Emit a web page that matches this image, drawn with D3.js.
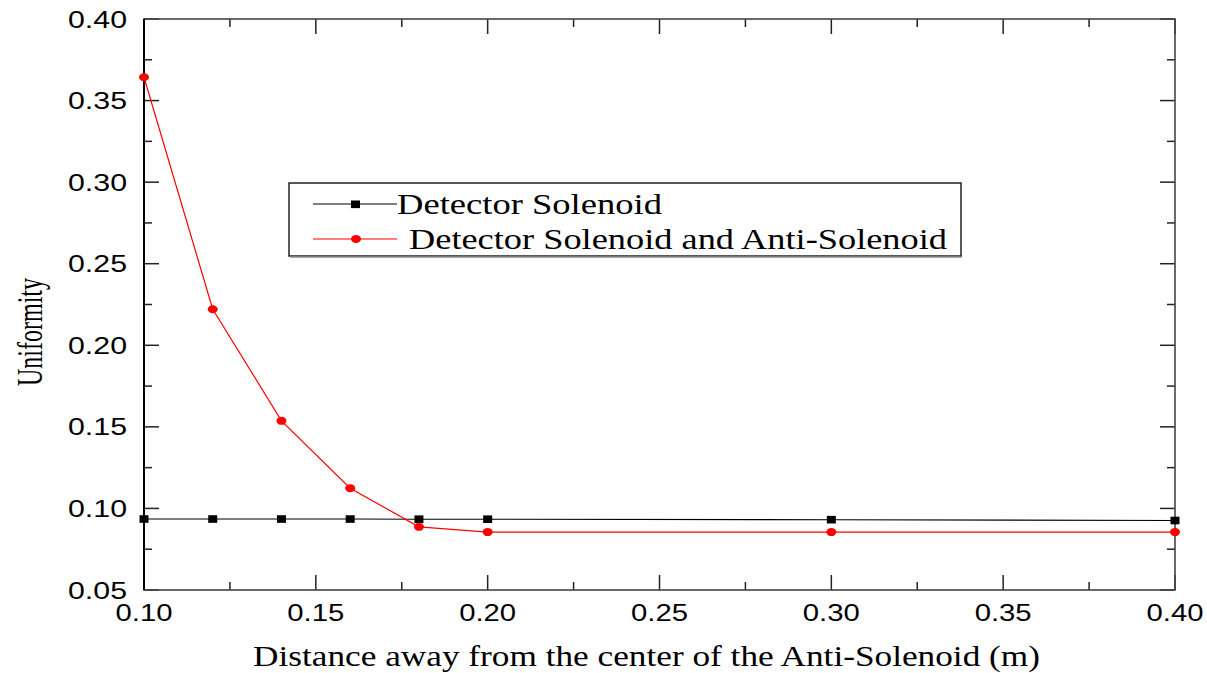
<!DOCTYPE html>
<html>
<head>
<meta charset="utf-8">
<script src="https://cdn.jsdelivr.net/npm/d3@7"></script>
<style>
  html, body { margin: 0; padding: 0; background: #fff; }
  svg { display: block; }
</style>
</head>
<body>
<svg id="chart" width="1207" height="673"></svg>
<script>
// Distance from the anti-solenoid centre (m)
const distances = [0.10, 0.12, 0.14, 0.16, 0.18, 0.20, 0.30, 0.40];
// Field uniformity, detector solenoid only
const solenoidOnly = [0.0935, 0.0935, 0.0935, 0.0935, 0.0934, 0.0934, 0.0931, 0.0926];
// Field uniformity, detector solenoid with anti-solenoid
const withAntiSolenoid = [0.3643, 0.2221, 0.1537, 0.1124, 0.0887, 0.0855, 0.0855, 0.0855];

const xTicks = [0.10, 0.15, 0.20, 0.25, 0.30, 0.35, 0.40];
const yTicks = [0.05, 0.10, 0.15, 0.20, 0.25, 0.30, 0.35, 0.40];
const seriesNames = ["Detector Solenoid", "Detector Solenoid and Anti-Solenoid"];
const xTitle = "Distance away from the center of the Anti-Solenoid (m)";
const yTitle = "Uniformity";

const svg = d3.select("#chart");
const plotLeft = 144, plotRight = 1175, plotTop = 19, plotBottom = 590;

const x = d3.scaleLinear().domain([0.10, 0.40]).range([plotLeft, plotRight]);
const y = d3.scaleLinear().domain([0.05, 0.40]).range([plotBottom, plotTop]);

const sans = "'Liberation Sans', Arial, sans-serif";
const serif = "'Liberation Serif', 'Times New Roman', serif";

// Minor tick positions halfway between majors
const xMinor = d3.range(0.125, 0.40, 0.05);
const yMinor = d3.range(0.075, 0.40, 0.05);

// Inward ticks on all four sides
const tickG = svg.append("g").attr("stroke", "#222").attr("stroke-width", 1.5);
xTicks.forEach(v => {
  tickG.append("line").attr("x1", x(v)).attr("x2", x(v)).attr("y1", plotBottom).attr("y2", plotBottom - 15);
  tickG.append("line").attr("x1", x(v)).attr("x2", x(v)).attr("y1", plotTop).attr("y2", plotTop + 15);
});
xMinor.forEach(v => {
  tickG.append("line").attr("x1", x(v)).attr("x2", x(v)).attr("y1", plotBottom).attr("y2", plotBottom - 8);
  tickG.append("line").attr("x1", x(v)).attr("x2", x(v)).attr("y1", plotTop).attr("y2", plotTop + 8);
});
yTicks.forEach(v => {
  tickG.append("line").attr("y1", y(v)).attr("y2", y(v)).attr("x1", plotLeft).attr("x2", plotLeft + 15);
  tickG.append("line").attr("y1", y(v)).attr("y2", y(v)).attr("x1", plotRight).attr("x2", plotRight - 15);
});
yMinor.forEach(v => {
  tickG.append("line").attr("y1", y(v)).attr("y2", y(v)).attr("x1", plotLeft).attr("x2", plotLeft + 8);
  tickG.append("line").attr("y1", y(v)).attr("y2", y(v)).attr("x1", plotRight).attr("x2", plotRight - 8);
});

// Frame
svg.append("rect")
  .attr("x", plotLeft).attr("y", plotTop)
  .attr("width", plotRight - plotLeft).attr("height", plotBottom - plotTop)
  .attr("fill", "none").attr("stroke", "#444").attr("stroke-width", 1.6);
svg.append("line").attr("x1", plotLeft).attr("x2", plotLeft).attr("y1", plotTop).attr("y2", plotBottom)
  .attr("stroke", "#000").attr("stroke-width", 2);

// Tick labels
svg.append("g").selectAll("text").data(yTicks).join("text")
  .attr("x", 127).attr("y", d => y(d) + 8.5)
  .attr("text-anchor", "end")
  .attr("font-family", sans).attr("font-size", 24)
  .attr("textLength", 59).attr("lengthAdjust", "spacingAndGlyphs")
  .attr("fill", "#000")
  .text(d => d.toFixed(2));

svg.append("g").selectAll("text").data(xTicks).join("text")
  .attr("x", d => x(d) - 28.5).attr("y", 621)
  .attr("font-family", sans).attr("font-size", 24)
  .attr("textLength", 57).attr("lengthAdjust", "spacingAndGlyphs")
  .attr("fill", "#000")
  .text(d => d.toFixed(2));

// Axis titles
svg.append("text")
  .attr("x", 253).attr("y", 666)
  .attr("font-family", serif).attr("font-size", 30)
  .attr("textLength", 787).attr("lengthAdjust", "spacingAndGlyphs")
  .text(xTitle);

svg.append("text")
  .attr("transform", "translate(42,386) rotate(-90)")
  .attr("font-family", serif).attr("font-size", 36)
  .attr("textLength", 108).attr("lengthAdjust", "spacingAndGlyphs")
  .text(yTitle);

// Series lines and markers
const line = d3.line().x((d, i) => x(distances[i])).y(d => y(d));

svg.append("path").datum(solenoidOnly)
  .attr("d", line).attr("fill", "none")
  .attr("stroke", "#000").attr("stroke-width", 1.1);
svg.append("path").datum(withAntiSolenoid)
  .attr("d", line).attr("fill", "none")
  .attr("stroke", "#ff0000").attr("stroke-width", 1.2);

svg.append("g").selectAll("rect").data(solenoidOnly).join("rect")
  .attr("x", (d, i) => x(distances[i]) - 4.5)
  .attr("y", d => y(d) - 3.8)
  .attr("width", 9).attr("height", 7.6)
  .attr("fill", "#000");

svg.append("g").selectAll("ellipse").data(withAntiSolenoid).join("ellipse")
  .attr("cx", (d, i) => x(distances[i]))
  .attr("cy", d => y(d))
  .attr("rx", 5).attr("ry", 4)
  .attr("fill", "#ff0000");

// Legend
const legend = svg.append("g");
legend.append("rect")
  .attr("x", 289).attr("y", 183).attr("width", 672).attr("height", 73)
  .attr("fill", "#fff").attr("stroke", "#222").attr("stroke-width", 1.5);
legend.append("line")
  .attr("x1", 290).attr("x2", 962).attr("y1", 257).attr("y2", 257)
  .attr("stroke", "#888").attr("stroke-width", 1.5);

legend.append("line").attr("x1", 313).attr("x2", 397).attr("y1", 204).attr("y2", 204)
  .attr("stroke", "#000").attr("stroke-width", 1.1);
legend.append("rect").attr("x", 351).attr("y", 200.5).attr("width", 9).attr("height", 7.6).attr("fill", "#000");
legend.append("text")
  .attr("x", 397).attr("y", 214)
  .attr("font-family", serif).attr("font-size", 30)
  .attr("textLength", 265).attr("lengthAdjust", "spacingAndGlyphs")
  .text(seriesNames[0]);

legend.append("line").attr("x1", 313).attr("x2", 397).attr("y1", 239).attr("y2", 239)
  .attr("stroke", "#ff0000").attr("stroke-width", 1.2);
legend.append("ellipse").attr("cx", 356).attr("cy", 239).attr("rx", 5).attr("ry", 4).attr("fill", "#ff0000");
legend.append("text")
  .attr("x", 409).attr("y", 249)
  .attr("font-family", serif).attr("font-size", 30)
  .attr("textLength", 538).attr("lengthAdjust", "spacingAndGlyphs")
  .text(seriesNames[1]);
</script>
</body>
</html>
